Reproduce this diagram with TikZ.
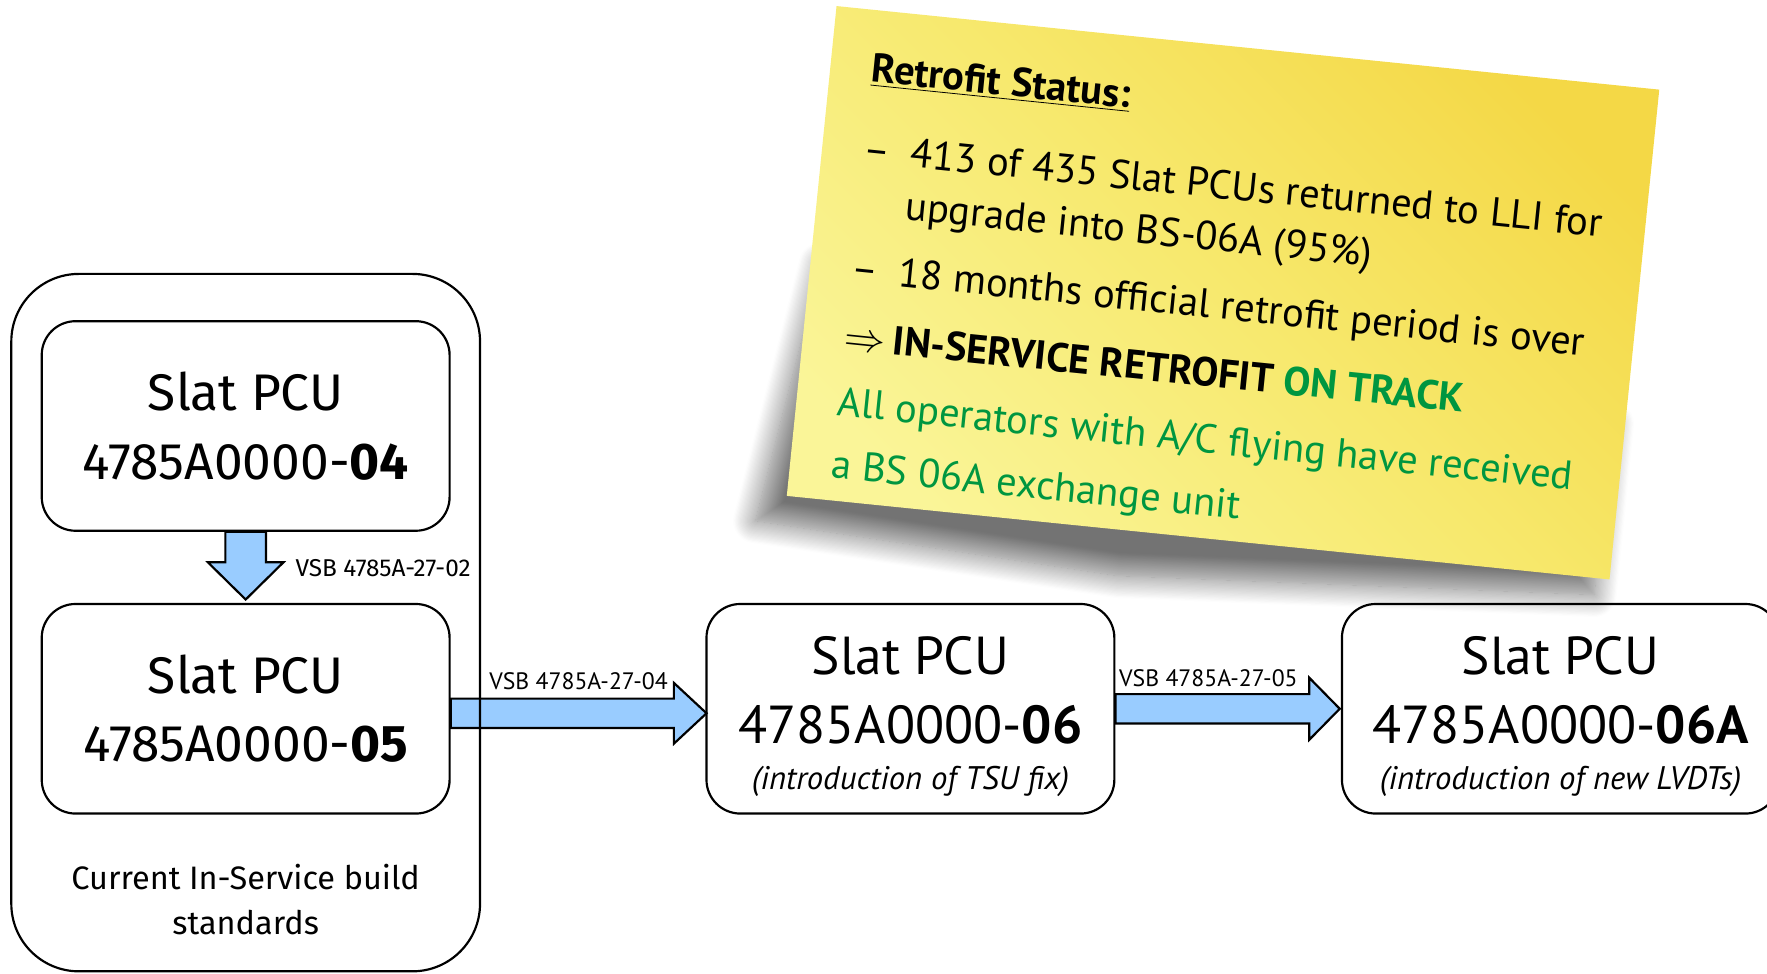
\documentclass[tikz,border=0pt]{standalone}
\usepackage{fontspec}
\setmainfont{Fira Sans}
\newfontfamily\dinfont{PT Sans}
\usetikzlibrary{arrows, shapes, positioning, calc, shadows.blur}
\definecolor{vsbblue}{RGB}{153,204,255}
\definecolor{trackgreen}{RGB}{0,150,64}
\definecolor{notelight}{RGB}{250,245,152}
\definecolor{notemid}{RGB}{247,233,110}
\definecolor{notedark}{RGB}{244,216,70}

\begin{document}
\begin{tikzpicture}[x=0.02cm, y=-0.02cm, node distance=5.02cm,
                    pcu/.style= {draw,
                      line width=1.1pt,
                      rounded corners=0.6cm,
                      minimum width=7.24cm,
                      minimum height=3.72cm,
                      inner sep=0pt,
                      align=center,
                      font=\fontsize{26}{34.6}\selectfont},
                    pcunew/.style= {pcu,
                      font=\dinfont\fontsize{27}{34.6}\selectfont},
                    group/.style= {draw,
                      line width=1.1pt,
                      rounded corners=1.2cm,
                      minimum width=8.32cm,
                      minimum height=12.38cm,
                      inner sep=0pt},
                    vsbarrow/.style= {draw,
                      line width=1.1pt,
                      fill=vsbblue,
                      line join=miter},
                    vsblabel/.style= {inner sep=0pt,
                      font=\dinfont\fontsize{12}{14}\selectfont},
                    note/.style= {minimum width=14.68cm,
                      minimum height=8.74cm,
                      inner sep=0pt,
                      top color=notelight,
                      bottom color=notedark,
                      middle color=notemid,
                      shading angle=135},
                    notetext/.style= {inner sep=0pt,
                      align=left,
                      font=\dinfont\fontsize{20.5}{26.6}\selectfont}]

  \path[use as bounding box, clip] (0,0) rectangle (1568,864.3);

  \node[pcu] (b04) at (218,378) {Slat PCU\\4785A0000-\textbf{04}};
  \node[pcu] (b05) [below of=b04] {Slat PCU\\4785A0000-\textbf{05}};
  \node (standards) [below of=b05, node distance=3.39cm, align=center,
    font=\fontsize{16.4}{22.8}\selectfont] {Current In-Service build\\standards};
  \node[pcunew] (b06) [right of=b05, node distance=11.8cm]
    {\rule{0pt}{27pt}Slat PCU\\4785A0000-\textbf{06}\\[-11.3pt]{\fontsize{16.5}{18}\selectfont\itshape (introduction of TSU fix)}};
  \node[pcunew, minimum width=7.76cm] (b06a) [right of=b06, node distance=11.54cm]
    {\rule{0pt}{27pt}Slat PCU\\4785A0000-\textbf{06A}\\[-11.3pt]{\fontsize{16.5}{18}\selectfont\itshape (introduction of new LVDTs)}};

  % VSB arrows
  \draw[vsbarrow] ($(b04.south)+(-18,0)$) -- ($(b05.north)+(-18,-36)$)
    -- ($(b05.north)+(-33.5,-36)$) -- ($(b05.north)+(0,-3)$)
    -- ($(b05.north)+(33.5,-36)$) -- ($(b05.north)+(18,-36)$)
    -- ($(b04.south)+(18,0)$) -- cycle;
  \node[vsblabel, anchor=base west, font=\fontsize{12.3}{14}\selectfont] (vsb02)
    at ($(b05.north)+(44,-23)$) {VSB 4785A-27-02};

  \draw[vsbarrow] ($(b05.east)+(0,-9)$) -- ($(b06.west)+(-28,-9)$)
    -- ($(b06.west)+(-28,-23)$) -- ($(b06.west)+(1,4)$)
    -- ($(b06.west)+(-28,31)$) -- ($(b06.west)+(-28,17)$)
    -- ($(b05.east)+(0,17)$) -- cycle;
  \node[vsblabel, anchor=base east] (vsb04) at ($(b06.west)+(-33,-17)$) {VSB 4785A-27-04};

  \draw[vsbarrow] ($(b06.east)+(0,-13)$) -- ($(b06a.west)+(-28,-13)$)
    -- ($(b06a.west)+(-28,-27.5)$) -- ($(b06a.west)+(-1,0)$)
    -- ($(b06a.west)+(-28,27.5)$) -- ($(b06a.west)+(-28,13)$)
    -- ($(b06.east)+(0,13)$) -- cycle;
  \node[vsblabel, anchor=base east] (vsb05) at ($(b06a.west)+(-38,-20)$) {VSB 4785A-27-05};

  \node[group] (instd) at (218,552.5) {};

  % sticky note
  \begin{scope}[shift={(742,5)}, rotate=-5.8, transform shape]
    \path[blur shadow={shadow xshift=0pt, shadow yshift=0pt, shadow blur radius=0.4cm,
      shadow blur steps=20, shadow opacity=55}]
      (10,230) -- (-25,462) -- (300,478) -- (722,452) -- (722,300) -- cycle;
    \node[note, anchor=north west] (note) at (0,0) {};
    \node[notetext, anchor=north west] (status) at (37,38)
      {\textbf{\underline{Retrofit Status:}}\\[14.2pt]
       \makebox[0.84cm][l]{–}413 of 435 Slat PCUs returned to LLI for\\
       \hspace*{0.84cm}upgrade into BS-06A (95\%)\\[7.4pt]
       \makebox[0.84cm][l]{–}18 months official retrofit period is over\\[8pt]
       \makebox[0.86cm][l]{$\Rightarrow$}\textbf{IN-SERVICE RETROFIT \textcolor{trackgreen}{ON TRACK}}\\[6.8pt]
       \textcolor{trackgreen}{All operators with A/C flying have received}\\[5.1pt]
       \textcolor{trackgreen}{a BS 06A exchange unit}};
  \end{scope}
\end{tikzpicture}
\end{document}
